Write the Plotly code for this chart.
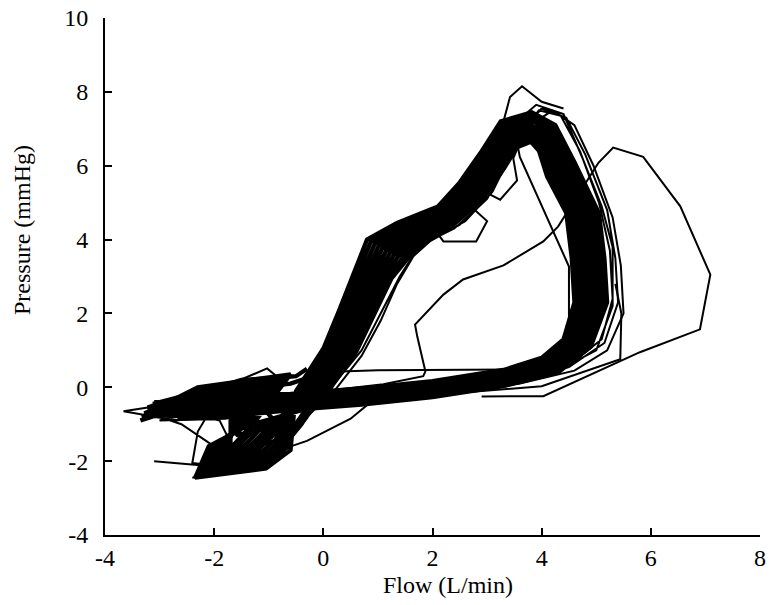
import plotly.graph_objects as go

# ---- repeated pressure-flow cycles (Flow L/min, Pressure mmHg) ----
k0_x = [-3.1, -2.3, -1.6, -1.7, -1.7, -2.0, -1.85, -1.3, -0.1, 0.6, 0.92, 1.25, 1.5, 1.75, 2.3, 2.9, 3.32, 3.55, 3.8, 3.95, 4.1, 4.45, 4.55, 4.6, 4.4, 4.0, 3.3, 2.0, 0.7, -0.6, -1.8, -2.6]
k0_y = [-0.4, -0.4, -0.45, -0.9, -1.8, -2.0, -1.9, -1.0, -0.5, 0.95, 1.95, 2.95, 3.4, 3.85, 4.3, 5.05, 5.95, 6.5, 6.65, 6.4, 5.7, 4.72, 3.5, 2.3, 1.3, 0.8, 0.47, 0.17, -0.03, -0.18, -0.2, -0.35]
k1_x = [-3.3, -2.35, -1.5, -1.66, -1.74, -2.03, -1.77, -1.23, -0.14, 0.54, 0.86, 1.18, 1.43, 1.71, 2.28, 2.86, 3.28, 3.52, 3.78, 3.98, 4.15, 4.51, 4.61, 4.66, 4.45, 4.03, 3.25, 2.1, 0.8, -0.5, -1.75, -2.55]
k1_y = [-0.85, -0.36, -0.37, -0.85, -1.78, -2.04, -1.93, -1.07, -0.46, 0.96, 1.96, 2.96, 3.46, 3.91, 4.36, 5.1, 5.99, 6.57, 6.73, 6.47, 5.74, 4.68, 3.52, 2.28, 1.28, 0.76, 0.43, 0.13, -0.07, -0.22, -0.26, -0.4]
k2_x = [-3.15, -2.25, -1.4, -1.61, -1.78, -2.06, -1.69, -1.16, -0.18, 0.48, 0.79, 1.11, 1.36, 1.67, 2.26, 2.82, 3.23, 3.49, 3.83, 4.01, 4.2, 4.57, 4.67, 4.72, 4.5, 4.06, 3.35, 1.9, 0.65, -0.65, -1.85, -2.62]
k2_y = [-0.5, -0.32, -0.29, -0.95, -1.76, -2.08, -1.96, -1.14, -0.42, 0.97, 1.97, 2.97, 3.52, 3.97, 4.42, 5.15, 6.03, 6.64, 6.81, 6.54, 5.78, 4.71, 3.48, 2.32, 1.26, 0.72, 0.38, 0.08, -0.12, -0.27, -0.32, -0.45]
k3_x = [-3.25, -2.32, -1.3, -1.57, -1.82, -2.09, -1.61, -1.09, -0.22, 0.42, 0.73, 1.04, 1.29, 1.63, 2.24, 2.78, 3.19, 3.46, 3.79, 4.04, 4.25, 4.63, 4.73, 4.78, 4.55, 4.09, 3.28, 2.05, 0.75, -0.55, -1.78, -2.58]
k3_y = [-0.75, -0.28, -0.21, -0.88, -1.74, -2.12, -1.99, -1.21, -0.38, 0.98, 1.98, 2.98, 3.58, 4.03, 4.48, 5.2, 6.07, 6.71, 6.89, 6.61, 5.82, 4.69, 3.51, 2.29, 1.24, 0.68, 0.34, 0.04, -0.16, -0.31, -0.38, -0.5]
k4_x = [-3.2, -2.28, -1.2, -1.52, -1.86, -2.12, -1.53, -1.02, -0.26, 0.36, 0.66, 0.97, 1.22, 1.59, 2.22, 2.74, 3.14, 3.43, 3.82, 4.07, 4.3, 4.69, 4.79, 4.84, 4.6, 4.12, 3.32, 1.95, 0.68, -0.62, -1.82, -2.6]
k4_y = [-0.6, -0.24, -0.13, -0.92, -1.72, -2.16, -2.02, -1.28, -0.34, 0.99, 1.99, 2.99, 3.64, 4.09, 4.54, 5.25, 6.11, 6.78, 6.97, 6.68, 5.86, 4.7, 3.5, 2.31, 1.22, 0.64, 0.29, -0.01, -0.21, -0.36, -0.44, -0.55]
k5_x = [-3.35, -2.3, -1.1, -1.48, -1.9, -2.15, -1.45, -0.95, -0.3, 0.3, 0.6, 0.9, 1.15, 1.55, 2.2, 2.7, 3.1, 3.4, 3.8, 4.1, 4.35, 4.75, 4.85, 4.9, 4.65, 4.15, 3.3, 2.0, 0.7, -0.6, -1.8, -2.6]
k5_y = [-0.9, -0.2, -0.05, -0.9, -1.7, -2.2, -2.05, -1.35, -0.3, 1.0, 2.0, 3.0, 3.7, 4.15, 4.6, 5.3, 6.15, 6.85, 7.05, 6.75, 5.9, 4.72, 3.49, 2.3, 1.2, 0.6, 0.25, -0.05, -0.25, -0.4, -0.5, -0.6]
k6_x = [-3.12, -2.36, -1.0, -1.43, -1.94, -2.18, -1.37, -0.88, -0.34, 0.24, 0.54, 0.83, 1.08, 1.51, 2.18, 2.66, 3.06, 3.37, 3.77, 4.13, 4.4, 4.81, 4.91, 4.96, 4.7, 4.18, 3.26, 2.08, 0.74, -0.56, -1.76, -2.64]
k6_y = [-0.45, -0.16, 0.03, -0.86, -1.68, -2.24, -2.08, -1.42, -0.26, 1.01, 2.01, 3.01, 3.76, 4.21, 4.66, 5.35, 6.19, 6.92, 7.13, 6.82, 5.94, 4.71, 3.5, 2.3, 1.18, 0.56, 0.21, -0.09, -0.29, -0.44, -0.56, -0.65]
k7_x = [-3.28, -2.26, -0.9, -1.39, -1.98, -2.21, -1.29, -0.81, -0.38, 0.18, 0.47, 0.76, 1.01, 1.47, 2.16, 2.62, 3.01, 3.34, 3.84, 4.16, 4.45, 4.87, 4.97, 5.02, 4.75, 4.21, 3.34, 1.92, 0.66, -0.64, -1.84, -2.56]
k7_y = [-0.7, -0.12, 0.11, -0.94, -1.66, -2.28, -2.11, -1.49, -0.22, 1.02, 2.02, 3.02, 3.82, 4.27, 4.72, 5.4, 6.23, 6.99, 7.21, 6.89, 5.98, 4.73, 3.52, 2.28, 1.16, 0.52, 0.16, -0.14, -0.34, -0.49, -0.62, -0.7]
k8_x = [-3.22, -2.3, -0.8, -1.34, -2.02, -2.24, -1.21, -0.74, -0.42, 0.12, 0.41, 0.69, 0.94, 1.43, 2.14, 2.58, 2.97, 3.31, 3.8, 4.19, 4.5, 4.93, 5.03, 5.08, 4.8, 4.24, 3.29, 2.03, 0.72, -0.58, -1.8, -2.62]
k8_y = [-0.55, -0.08, 0.19, -0.9, -1.64, -2.32, -2.14, -1.56, -0.18, 1.03, 2.03, 3.03, 3.88, 4.33, 4.78, 5.45, 6.27, 7.06, 7.29, 6.96, 6.02, 4.7, 3.5, 2.31, 1.14, 0.48, 0.12, -0.18, -0.38, -0.53, -0.68, -0.75]
k9_x = [-3.32, -2.34, -0.7, -1.3, -2.06, -2.27, -1.13, -0.67, -0.46, 0.06, 0.34, 0.62, 0.87, 1.39, 2.12, 2.54, 2.92, 3.28, 3.78, 4.22, 4.55, 4.99, 5.09, 5.14, 4.85, 4.27, 3.31, 1.97, 0.69, -0.61, -1.83, -2.59]
k9_y = [-0.8, -0.04, 0.27, -0.87, -1.62, -2.38, -2.17, -1.63, -0.14, 1.04, 2.04, 3.04, 3.94, 4.39, 4.84, 5.5, 6.31, 7.13, 7.37, 7.03, 6.06, 4.74, 3.49, 2.29, 1.12, 0.44, 0.07, -0.23, -0.43, -0.58, -0.74, -0.8]
k10_x = [-3.18, -2.3, -0.6, -1.25, -2.1, -2.35, -1.05, -0.6, -0.5, 0.0, 0.28, 0.55, 0.8, 1.35, 2.1, 2.5, 2.88, 3.25, 3.82, 4.25, 4.6, 5.05, 5.15, 5.2, 4.9, 4.3, 3.3, 2.0, 0.7, -0.6, -1.8, -2.6]
k10_y = [-0.65, 0.0, 0.35, -0.93, -1.6, -2.45, -2.2, -1.7, -0.1, 1.05, 2.05, 3.05, 4.0, 4.45, 4.9, 5.55, 6.35, 7.2, 7.45, 7.1, 6.1, 4.72, 3.5, 2.3, 1.1, 0.4, 0.03, -0.27, -0.47, -0.62, -0.8, -0.85]

# ---- partial cycles overlapping in the low-flow region ----
f1_x = [-3.0, -1.5, -1.3, -1.9, -1.2, -0.6, 0.0]
f1_y = [-0.6, -0.7, -1.1, -2.1, -2.0, -1.2, 0.1]
f2_x = [-2.8, -1.2, -0.9, -1.6, -2.2, -1.4, -0.8, -0.2]
f2_y = [-0.8, -0.4, -0.9, -1.5, -2.3, -2.2, -1.7, -0.6]
f3_x = [-2.5, -0.8, -0.7, -1.1, -1.8, -0.9, -0.4, 0.1]
f3_y = [-0.5, -0.3, -1.0, -1.5, -2.3, -1.9, -1.0, 0.2]
f4_x = [-2.4, -1.5, -0.9, -0.5, -0.3]
f4_y = [-0.2, 0.2, 0.25, 0.3, 0.5]
f5_x = [-2.0, -1.2, -0.6, -0.2]
f5_y = [-0.3, 0.0, 0.1, 0.3]
f6_x = [-1.4, -1.6, -1.0, -1.3, -0.7, -0.3]
f6_y = [-0.7, -1.3, -1.1, -1.6, -1.4, -0.8]

# ---- stray cycles (drawn thinner) ----
s1_x = [-3.2, -2.5, -1.9, -1.7, -1.85, -2.4, -1.4, -0.9, -0.35, 0.15, 0.7, 1.05, 1.35, 1.65, 1.95, 2.5, 3.0, 3.35, 3.6, 4.0, 4.45, 4.8, 5.2, 5.35, 5.4, 5.15, 4.5, 3.5, 2.0, 0.7, -0.6, -1.8, -2.6]
s1_y = [-0.8, -0.7, -0.9, -1.5, -2.3, -2.45, -2.15, -1.45, -0.85, -0.2, 0.85, 1.8, 2.8, 3.55, 3.95, 4.4, 5.1, 6.0, 6.9, 7.55, 7.3, 6.3, 4.8, 3.5, 2.3, 1.2, 0.55, 0.15, -0.2, -0.4, -0.6, -0.85, -0.88]
s2_x = [-3.0, -2.3, -1.6, -1.5, -1.7, -1.2, -0.75, -0.25, 0.2, 0.7, 1.05, 1.4, 1.7, 2.05, 2.6, 3.1, 3.4, 3.7, 4.2, 4.6, 4.95, 5.3, 5.45, 5.5, 5.2, 4.6, 3.6, 2.2, 0.8, -0.5, -1.7, -2.7]
s2_y = [-0.9, -0.6, -0.7, -1.3, -2.0, -1.9, -1.25, -0.6, 0.1, 1.0, 2.0, 3.0, 3.7, 4.05, 4.5, 5.3, 6.2, 7.0, 7.5, 7.1, 6.0, 4.6, 3.3, 2.0, 1.0, 0.45, 0.1, -0.15, -0.35, -0.55, -0.75, -0.9]
s3_x = [-3.66, -2.8, -2.1, -2.3, -2.4, -1.8, -1.3, -0.8, -0.45, 0.05, 0.4, 0.7, 0.95, 1.3, 2.0, 2.55, 2.95, 3.35, 3.9, 4.4, 4.75, 5.1, 5.3, 5.3, 5.0, 4.35, 3.3, 2.0, 0.7, -0.6, -1.8, -2.8]
s3_y = [-0.65, -0.45, -0.7, -1.2, -2.05, -2.15, -1.7, -0.95, -0.2, 0.7, 1.7, 2.7, 3.55, 4.1, 4.55, 5.2, 6.1, 6.95, 7.65, 7.4, 6.2, 4.9, 3.8, 2.2, 1.0, 0.5, 0.1, -0.2, -0.4, -0.5, -0.6, -0.7]
s4_x = [-3.1, -2.6, -2.0, -1.3, -1.0, -0.6, -0.1, 0.45, 0.85, 1.2, 1.5, 1.85, 2.4, 2.85, 3.2, 3.5, 3.95, 4.35, 4.7, 5.05, 5.25, 5.3, 5.1, 4.55, 3.8, 2.6, 1.2, -0.2, -1.5, -2.5]
s4_y = [-0.75, -1.0, -1.6, -2.2, -1.9, -1.2, -0.35, 0.9, 1.9, 2.85, 3.5, 3.9, 4.3, 4.9, 5.8, 6.7, 7.5, 7.35, 6.4, 5.0, 3.7, 2.4, 1.3, 0.65, 0.3, 0.0, -0.3, -0.45, -0.55, -0.7]

# ---- irregular single excursions ----
big_x = [2.9, 4.03, 5.8, 6.9, 7.09, 6.54, 5.86, 5.31, 5.04, 4.3, 4.03, 3.3, 2.56, 2.2, 1.68, 1.72, 1.87, 1.83, 1.1, 0.3]
big_y = [-0.25, -0.24, 0.95, 1.57, 3.05, 4.9, 6.24, 6.49, 6.08, 4.35, 3.95, 3.3, 2.92, 2.51, 1.7, 1.38, 0.43, 0.3, 0.08, -0.05]
flat_x = [0.0, 0.31, 1.0, 2.0, 3.5, 4.5]
flat_y = [0.1, 0.43, 0.46, 0.47, 0.48, 0.55]
low_x = [2.5, 4.0, 5.44, 5.46, 5.35]
low_y = [-0.15, 0.03, 0.76, 2.0, 2.8]
small_x = [1.7, 2.0, 2.2, 2.8, 3.0, 2.7, 2.88, 3.24, 3.55, 3.48, 3.7]
small_y = [4.3, 4.35, 3.95, 3.95, 4.5, 4.9, 5.35, 5.08, 5.6, 6.2, 7.0]
spike_x = [3.3, 3.42, 3.64, 4.0, 4.4]
spike_y = [7.2, 7.86, 8.15, 7.73, 7.55]
inner_x = [3.5, 3.6, 4.5, 4.5, 4.3]
inner_y = [7.0, 6.24, 3.27, 0.95, 0.7]
tail_x = [-3.1, -2.2, -1.3, -0.3, 0.5, 0.95]
tail_y = [-2.0, -2.12, -1.95, -1.45, -0.85, -0.3]
bump_x = [-1.6, -1.15, -1.03, -0.79, -0.5]
bump_y = [0.15, 0.43, 0.51, 0.22, 0.3]

x_ticks = [-4, -2, 0, 2, 4, 6, 8]
y_ticks = [-4, -2, 0, 2, 4, 6, 8, 10]
x_title = "Flow (L/min)"
y_title = "Pressure (mmHg)"

core_x = [k0_x, k1_x, k2_x, k3_x, k4_x, k5_x, k6_x, k7_x, k8_x, k9_x, k10_x]
core_y = [k0_y, k1_y, k2_y, k3_y, k4_y, k5_y, k6_y, k7_y, k8_y, k9_y, k10_y]
stray_x = [s1_x, s2_x, s3_x, s4_x]
stray_y = [s1_y, s2_y, s3_y, s4_y]


def join(xs, ys):
    ax, ay = [], []
    for cx, cy in zip(xs, ys):
        ax += cx
        ay += cy
    ax.append(xs[0][0])
    ay.append(ys[0][0])
    return ax, ay


fig = go.Figure()
THICK = dict(color="black", width=4.2)
THIN = dict(color="black", width=2)
cx, cy = join(core_x, core_y)
fig.add_trace(go.Scatter(x=cx, y=cy, mode="lines", line=THICK, showlegend=False, hoverinfo="skip"))
for ex, ey in [(f1_x, f1_y), (f2_x, f2_y), (f3_x, f3_y), (f4_x, f4_y), (f5_x, f5_y), (f6_x, f6_y)]:
    fig.add_trace(go.Scatter(x=ex, y=ey, mode="lines", line=THICK, showlegend=False, hoverinfo="skip"))
sx, sy = join(stray_x, stray_y)
fig.add_trace(go.Scatter(x=sx, y=sy, mode="lines", line=THIN, showlegend=False, hoverinfo="skip"))
for ex, ey in [(big_x, big_y), (flat_x, flat_y), (low_x, low_y), (small_x, small_y),
               (spike_x, spike_y), (inner_x, inner_y), (tail_x, tail_y), (bump_x, bump_y)]:
    fig.add_trace(go.Scatter(x=ex, y=ey, mode="lines", line=THIN, showlegend=False, hoverinfo="skip"))

FONT = dict(family="Liberation Serif, Times New Roman, serif", size=24, color="black")
AX = dict(ticks="inside", ticklen=7, tickwidth=2, tickcolor="black", automargin=False,
          showline=True, linewidth=2, linecolor="black", showgrid=False, zeroline=False,
          tickfont=FONT)
fig.update_layout(
    width=773, height=605,
    margin=dict(l=105, r=13, t=18, b=70),
    paper_bgcolor="white", plot_bgcolor="white",
    font=FONT,
    xaxis=dict(range=[-4, 8], tickvals=x_ticks, ticktext=[str(v) for v in x_ticks],
               ticklabelstandoff=0, **AX),
    yaxis=dict(range=[-4, 10], tickvals=y_ticks, ticktext=[str(v) for v in y_ticks],
               ticklabelstandoff=10, **AX),
    annotations=[
        dict(text=x_title, xref="paper", yref="paper", x=0.5237, y=-0.0967,
             xanchor="center", yanchor="middle", showarrow=False, font=FONT),
        dict(text=y_title, xref="paper", yref="paper", x=-0.1267, y=0.59, textangle=-90,
             xanchor="center", yanchor="middle", showarrow=False, font=FONT),
    ],
)
fig.write_html("out.html")
